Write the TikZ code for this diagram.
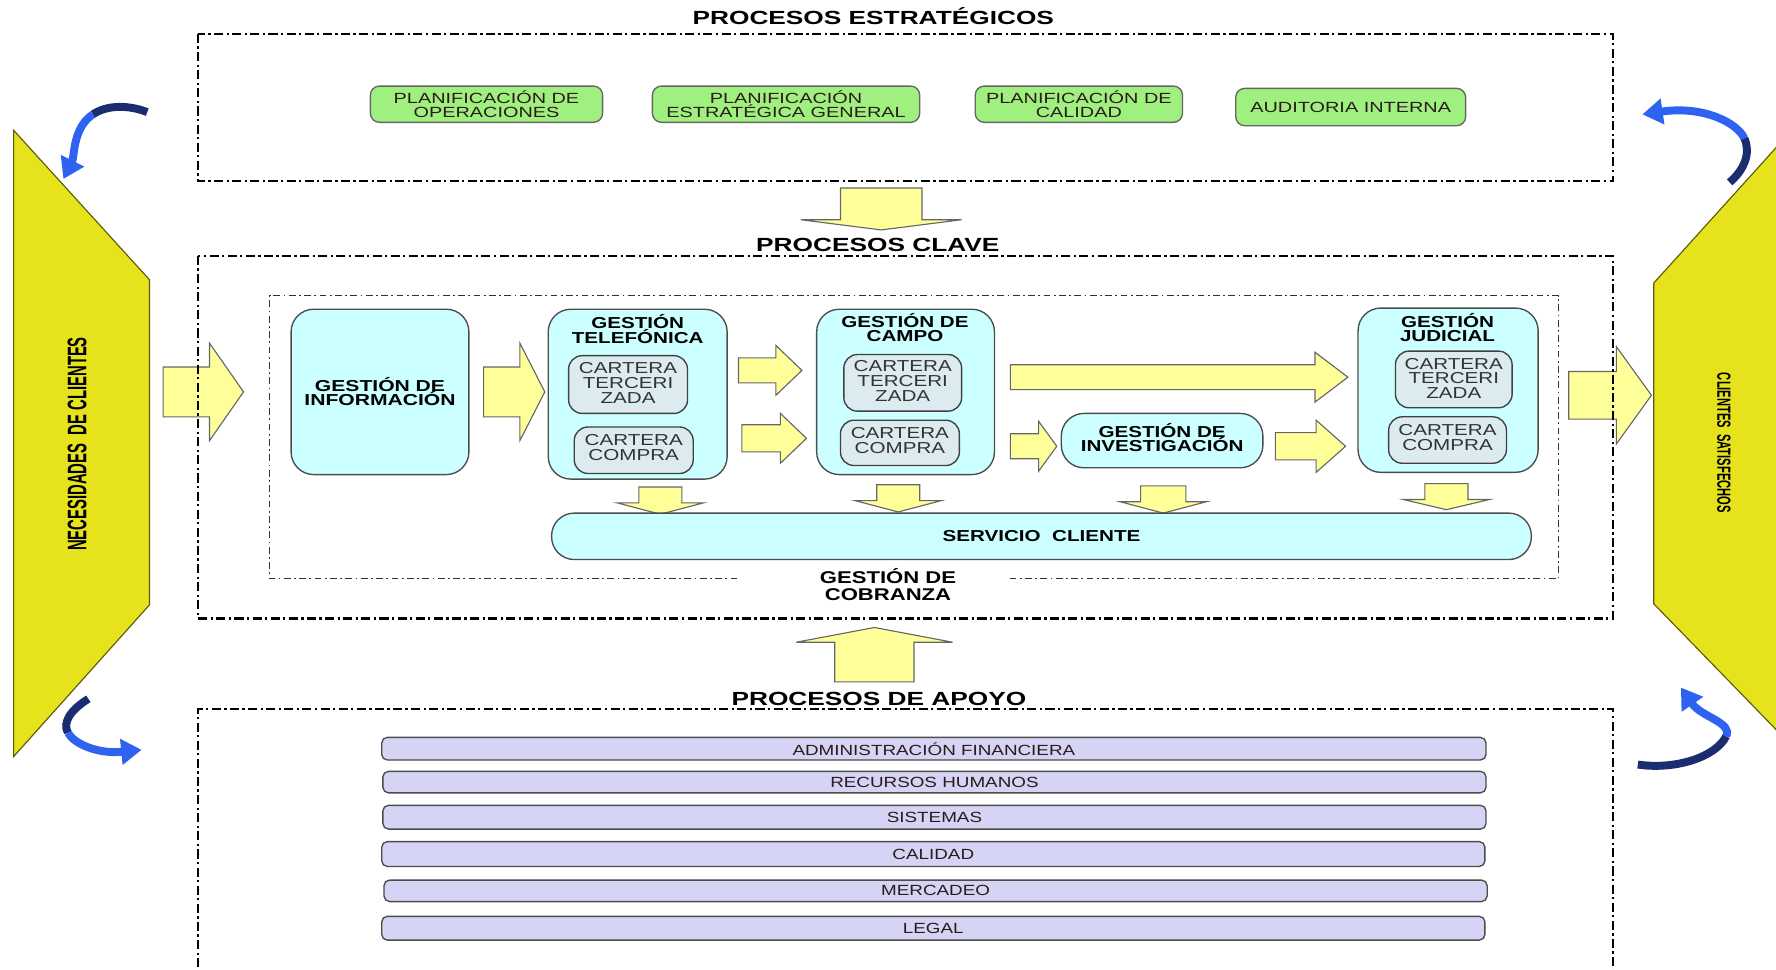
\documentclass[tikz,border=0pt]{standalone}
\usepackage{fontspec}
\setmainfont{Liberation Sans}
\usepackage{graphicx}
\usetikzlibrary{arrows.meta}

\definecolor{sideyellow}{HTML}{E6E21C}
\definecolor{arrowyellow}{HTML}{FFFF99}
\definecolor{keycyan}{HTML}{CCFFFF}
\definecolor{subgray}{HTML}{DCEBF0}
\definecolor{stratgreen}{HTML}{A0F080}
\definecolor{supportlilac}{HTML}{D5D4F5}
\definecolor{loopnavy}{HTML}{1B2D6E}
\definecolor{loopblue}{HTML}{2E62F0}
\definecolor{textdark}{HTML}{2B1B1B}

% widened, centred lines set at exactly the current baselineskip
\newcommand\stretchtext[2]{\scalebox{#1}[1]{\vbox{\lineskiplimit=-\maxdimen\lineskip=0pt\def\\{\cr}\halign{\hfil##\hfil\cr#2\crcr}}}}
\newcommand\titlefont{\fontsize{8.4}{9}\selectfont\bfseries}
\newcommand\keyfont{\fontsize{7}{6.2}\selectfont\bfseries}
\newcommand\subfont{\fontsize{7}{6.5}\selectfont}
\newcommand\greenfont{\fontsize{6.5}{6.1}\selectfont}
\newcommand\lilacfont{\fontsize{6.5}{7}\selectfont}

% box given by its corners: style, name, x1, y1, x2, y2, text
\newcommand\placebox[7]{\node[#1, minimum width={(#5-#3)*0.5pt}, minimum height={(#6-#4)*0.5pt}] (#2) at ({(#3+#5)/2},{(#4+#6)/2}) {#7};}
% horizontal block arrow: x start, y centre, shaft half height, head base x, head half height, tip x
\newcommand\blockright[6]{\path[blockarrow] (#1,{#2-#3}) -- (#4,{#2-#3}) -- (#4,{#2-#5}) -- (#6,#2) -- (#4,{#2+#5}) -- (#4,{#2+#3}) -- (#1,{#2+#3}) -- cycle;}
% vertical block arrow: x centre, shaft end y, shaft half width, head base y, head half width, tip y
\newcommand\blockvert[6]{\path[blockarrow] ({#1-#3},#2) -- ({#1+#3},#2) -- ({#1+#3},#4) -- ({#1+#5},#4) -- (#1,#6) -- ({#1-#5},#4) -- ({#1-#3},#4) -- cycle;}

\begin{document}
\begin{tikzpicture}[x=0.5pt,y=-0.5pt,
  procframe/.style={draw=black, line width=1pt, dash pattern=on 4pt off 1.5pt on 1pt off 1.5pt},
  innerframe/.style={draw=black!80, line width=0.45pt, dash pattern=on 3pt off 1.5pt on 0.8pt off 1.5pt},
  sideshape/.style={fill=sideyellow, draw=black!60!sideyellow, line width=0.5pt},
  blockarrow/.style={fill=arrowyellow, draw=black!60, line width=0.5pt},
  keybox/.style={draw=black!70, fill=keycyan, line width=0.6pt, rounded corners=10pt, inner sep=0pt, outer sep=0pt, font=\keyfont},
  subbox/.style={draw=black!75, fill=subgray, line width=0.6pt, rounded corners=6pt, inner sep=0pt, outer sep=0pt, font=\subfont, text=black!80},
  stratbox/.style={draw=black!60, fill=stratgreen, line width=0.6pt, rounded corners=4pt, inner sep=0pt, outer sep=0pt, font=\greenfont, text=textdark},
  supportbar/.style={draw=black!70, fill=supportlilac, line width=0.6pt, rounded corners=2.5pt, inner sep=0pt, outer sep=0pt, font=\lilacfont, text=textdark},
  keytitle/.style={inner sep=0pt, font=\keyfont},
  sectiontitle/.style={inner sep=0pt, font=\titlefont},
  navyband/.style={draw=loopnavy, line width=3.5pt},
  blueband/.style={draw=loopblue, line width=3.5pt, -{Triangle[width=11pt,length=9pt]}}]
\useasboundingbox (0,0) rectangle (1568,856);

% side panels
\path[sideshape] (12,115) -- (132,247) -- (132,534) -- (12,668) -- cycle;
\path[sideshape] (1460,250) -- (1600,95) -- (1600,677) -- (1460,533) -- cycle;
\node[rotate=90, inner sep=0pt, font=\fontsize{8}{9}\selectfont\bfseries] (needs) at (68,392)
  {\scalebox{0.82}[1.48]{NECESIDADES\ \ DE CLIENTES}};
\node[rotate=-90, inner sep=0pt, font=\fontsize{6}{7}\selectfont\bfseries] (satisfied) at (1522,391)
  {\scalebox{0.82}[1.4]{CLIENTES\ \ SATISFECHOS}};

% curved loop arrows
\draw[navyband] (130,99) .. controls (115,93) and (95,92) .. (82,101);
\draw[blueband] (82,101) .. controls (64,113) and (66,138) .. (56,158);
\draw[navyband] (1527,161) .. controls (1540,150) and (1546,135) .. (1540,122);
\draw[blueband] (1540,122) .. controls (1534,109) and (1505,93) .. (1450,101);
\draw[navyband] (78,617) .. controls (62,627) and (55,638) .. (60,647);
\draw[blueband] (60,647) .. controls (65,656) and (85,666) .. (125,662);
\draw[navyband] (1446,675) .. controls (1480,680) and (1515,668) .. (1524,650);
\draw[blueband] (1524,650) .. controls (1530,638) and (1502,633) .. (1484,607);

% block arrows
\blockvert{778}{166}{36}{194}{71}{203}
\blockvert{772}{602}{35}{567}{69}{554}
\blockright{144}{346}{22}{185}{43}{215}
\blockright{427}{346}{22}{459}{43}{481}
\blockright{652}{327}{11}{685}{22}{708}
\blockright{655}{387}{12}{689}{22}{712}
\blockright{892}{333}{11}{1161}{22}{1190}
\blockright{892}{394}{11}{917}{22}{933}
\blockright{1126}{394}{12}{1162}{23}{1188}
\blockright{1385}{349}{21}{1427}{43}{1458}
\blockvert{583}{430}{19}{444}{38}{454}
\blockvert{793}{428}{19}{442}{38}{452}
\blockvert{1027}{429}{20}{443}{38}{453}
\blockvert{1277}{427}{19}{441}{38}{450}

% process frames
\draw[procframe] (175,30) rectangle (1424,160);
\draw[procframe] (175,226) rectangle (1424,546);
\draw[procframe] (175,870) -- (175,626) -- (1424,626) -- (1424,870);
\draw[innerframe] (651,511) -- (238,511) -- (238,261) -- (1376,261) -- (1376,511) -- (890,511);

% section titles
\node[sectiontitle] (tstrat) at (771,14) {\stretchtext{1.38}{PROCESOS ESTRATÉGICOS}};
\node[sectiontitle] (tkey) at (775,216.5) {\stretchtext{1.38}{PROCESOS CLAVE}};
\node[sectiontitle] (tsupport) at (776,617) {\stretchtext{1.38}{PROCESOS DE APOYO}};

% strategic processes
\placebox{stratbox}{planop}{327}{76}{532}{108}{\stretchtext{1.35}{PLANIFICACIÓN DE\\OPERACIONES}}
\placebox{stratbox}{planest}{576}{76}{812}{108}{\stretchtext{1.35}{PLANIFICACIÓN\\ESTRATÉGICA GENERAL}}
\placebox{stratbox}{plancal}{861}{76}{1044}{108}{\stretchtext{1.35}{PLANIFICACIÓN DE\\CALIDAD}}
\placebox{stratbox}{audit}{1091}{78}{1294}{111}{\stretchtext{1.35}{AUDITORIA INTERNA}}

% key processes
\placebox{keybox}{info}{257}{273}{414}{419}{\stretchtext{1.33}{GESTIÓN DE\\INFORMACIÓN}}
\placebox{keybox}{tel}{484}{273}{642}{423}{}
\node[keytitle] (telT) at (563,290.5) {\stretchtext{1.3}{GESTIÓN\\TELEFÓNICA}};
\placebox{subbox}{telA}{502}{314}{607}{365}{\raisebox{1.2pt}{\stretchtext{1.3}{CARTERA\\TERCERI\\ZADA}}}
\placebox{subbox}{telB}{507}{377}{612}{418}{\raisebox{2.5pt}{\stretchtext{1.3}{CARTERA\\COMPRA}}}
\placebox{keybox}{campo}{721}{273}{878}{419}{}
\node[keytitle] (campoT) at (799,289.5) {\stretchtext{1.3}{GESTIÓN DE\\CAMPO}};
\placebox{subbox}{campoA}{745}{313}{849}{363}{\raisebox{1.5pt}{\stretchtext{1.3}{CARTERA\\TERCERI\\ZADA}}}
\placebox{subbox}{campoB}{742}{371}{847}{411}{\raisebox{2pt}{\stretchtext{1.3}{CARTERA\\COMPRA}}}
\placebox{keybox}{inv}{937}{365}{1115}{413}{\raisebox{2.5pt}{\stretchtext{1.3}{GESTIÓN DE\\INVESTIGACIÓN}}}
\placebox{keybox}{jud}{1199}{272}{1358}{417}{}
\node[keytitle] (judT) at (1278,289.5) {\stretchtext{1.3}{GESTIÓN\\JUDICIAL}};
\placebox{subbox}{judA}{1232}{310}{1335}{360}{\raisebox{1pt}{\stretchtext{1.3}{CARTERA\\TERCERI\\ZADA}}}
\placebox{subbox}{judB}{1226}{368}{1330}{409}{\raisebox{2pt}{\stretchtext{1.3}{CARTERA\\COMPRA}}}
\placebox{keybox}{serv}{487}{453}{1352}{494}{\stretchtext{1.3}{SERVICIO\ \ CLIENTE}}
\node[inner sep=0pt, font=\fontsize{7.5}{7.5}\selectfont\bfseries] (cobranza) at (784,516.5)
  {\stretchtext{1.3}{GESTIÓN DE\\COBRANZA}};

% support processes
\placebox{supportbar}{fin}{337}{651}{1312}{671}{\stretchtext{1.28}{ADMINISTRACIÓN FINANCIERA}}
\placebox{supportbar}{rrhh}{338}{681}{1312}{700}{\stretchtext{1.28}{RECURSOS HUMANOS}}
\placebox{supportbar}{sis}{338}{711}{1312}{732}{\stretchtext{1.28}{SISTEMAS}}
\placebox{supportbar}{cal}{337}{743}{1311}{765}{\stretchtext{1.28}{CALIDAD}}
\placebox{supportbar}{merc}{339}{777}{1313}{796}{\stretchtext{1.28}{MERCADEO}}
\placebox{supportbar}{legal}{337}{809}{1311}{830}{\stretchtext{1.28}{LEGAL}}
\end{tikzpicture}
\end{document}
